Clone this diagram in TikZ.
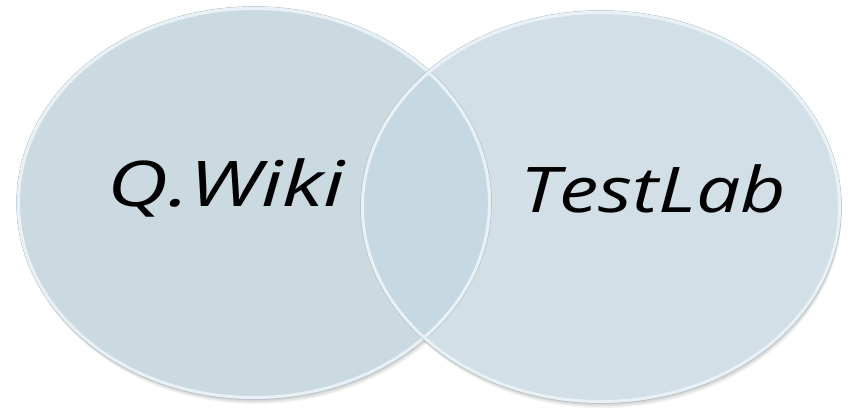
\documentclass[tikz,border=0pt]{standalone}
\usepackage{fontspec}
\setmainfont{Open Sans}
\definecolor{fillL}{RGB}{203,217,224}
\definecolor{fillR}{RGB}{210,223,230}
\definecolor{fillO}{RGB}{198,216,225}
\definecolor{rimc}{RGB}{232,241,246}
\definecolor{edgec}{RGB}{175,192,201}
\tikzset{
  lbl/.style={anchor=base west,inner sep=0pt,font=\itshape\fontsize{63}{63}\selectfont,text=black},
  rimline/.style={draw=rimc,line width=3pt},
  edgeline/.style={draw=edgec,line width=0.5pt},
}
\begin{document}
\begin{tikzpicture}[x=1pt,y=-1pt]
\useasboundingbox (0,0) rectangle (848,408);
\fill[white] (0,0) rectangle (848,408);
\coordinate (cL) at (254,203);
\coordinate (cR) at (601,207);
% soft shadows
\foreach \d in {1,2,3,4,5,6}{
  \fill[black,opacity=0.04] ([yshift=-\d pt, xshift=0.3*\d pt]cL) ellipse [x radius=236, y radius=195];
  \fill[black,opacity=0.04] ([yshift=-\d pt, xshift=0.3*\d pt]cR) ellipse [x radius=239, y radius=195];
}
% fills
\fill[fillL] (cL) ellipse [x radius=236, y radius=195];
\fill[fillR] (cR) ellipse [x radius=239, y radius=195];
\begin{scope}
  \clip (cL) ellipse [x radius=236, y radius=195];
  \fill[fillO] (cR) ellipse [x radius=239, y radius=195];
\end{scope}
% rims
\draw[edgeline] (cL) ellipse [x radius=237.5, y radius=196.5];
\draw[rimline] (cL) ellipse [x radius=235.5, y radius=194.5];
\draw[edgeline] (cR) ellipse [x radius=240.5, y radius=196.5];
\draw[rimline] (cR) ellipse [x radius=238.5, y radius=194.5];
% labels
\node[lbl] (qwiki) at (107,206) {\scalebox{1.34}[1]{Q.Wiki}};
\node[lbl] (testlab) at (520,212) {\scalebox{1.25}[1]{TestLab}};
\end{tikzpicture}
\end{document}
